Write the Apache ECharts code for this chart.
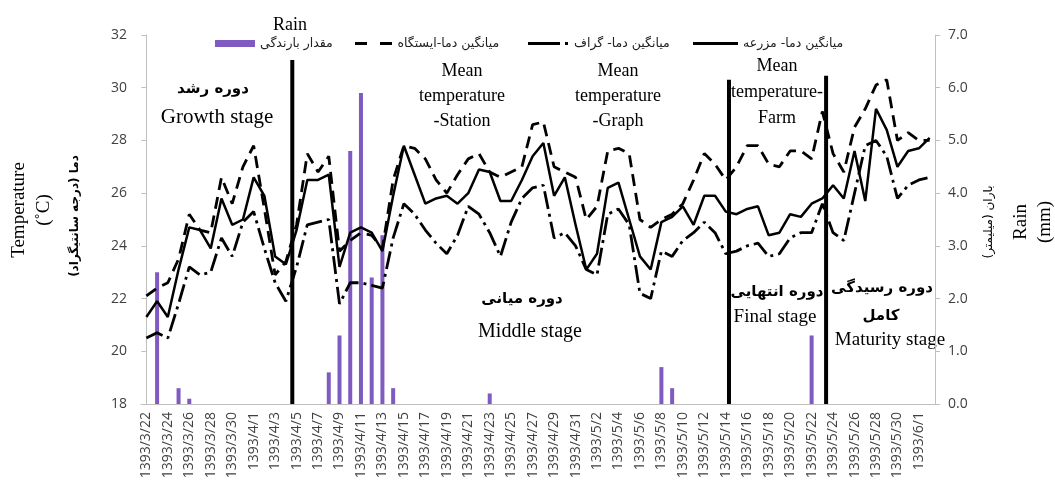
<!DOCTYPE html>
<html>
<head>
<meta charset="utf-8">
<script src="https://cdn.jsdelivr.net/npm/echarts@6/dist/echarts.min.js"></script>
<style>
  html, body { margin: 0; padding: 0; background: #fff; }
  #chart { width: 1055px; height: 486px; }
</style>
</head>
<body>
<div id="chart"></div>
<script>
// Daily series, 1393/3/22 – 1393/6/2 (Persian calendar)
const dateSpans = [[3, 22, 31], [4, 1, 31], [5, 1, 31], [6, 1, 2]];
const dates = [];
for (const [m, d0, d1] of dateSpans) {
  for (let d = d0; d <= d1; d++) dates.push('1393/' + m + '/' + d);
}

// Daily rain (mm)
const rain = [
  0, 2.5, 0, 0.3, 0.1, 0, 0, 0, 0, 0,
  0, 0, 0, 0, 0, 0, 0, 0.6, 1.3, 4.8, 5.9, 2.4, 3.2, 0.3, 0, 0, 0, 0, 0, 0, 0, 0, 0.2, 0, 0, 0, 0, 0, 0, 0, 0,
  0, 0, 0, 0, 0, 0, 0, 0.7, 0.3, 0, 0, 0, 0, 0, 0, 0, 0, 0, 0, 0, 0, 1.3, 0, 0, 0, 0, 0, 0, 0, 0, 0,
  0, 0
];

// Mean temperature, weather station (°C)
const station = [
  22.1, 22.4, 22.6, 23.5, 25.2, 24.6, 24.5, 26.6, 25.6, 27.0,
  27.8, 25.4, 22.9, 23.4, 24.8, 27.5, 26.8, 27.4, 23.8, 24.2, 24.5, 24.4, 23.9, 26.5, 27.8, 27.7,
  27.3, 26.5, 26.0, 26.7, 27.3, 27.5, 26.8, 26.6, 26.8, 27.0, 28.6, 28.7, 27.0, 26.8, 26.6,
  25.0, 25.5, 27.6, 27.7, 27.5, 25.0, 24.7, 25.0, 25.2, 25.6, 26.5, 27.5, 27.1, 26.5, 27.0, 27.8,
  27.8, 27.1, 27.0, 27.6, 27.6, 27.3, 29.1, 27.5, 26.8, 28.5, 29.2, 30.1, 30.3, 28.0, 28.3,
  28.0, 28.0
];

// Mean temperature, thermograph (°C)
const graph = [
  20.5, 20.7, 20.5, 21.8, 23.2, 22.9, 23.0, 24.3, 23.6, 24.9,
  25.3, 23.9, 22.6, 21.9, 23.2, 24.8, 24.9, 25.0, 21.8, 22.6, 22.6, 22.5, 22.4, 24.3, 25.6, 25.2,
  24.6, 24.1, 23.7, 24.4, 25.5, 25.2, 24.5, 23.6, 24.9, 25.8, 26.2, 26.3, 24.3, 24.5, 24.0,
  23.1, 22.9, 25.2, 25.4, 24.8, 22.2, 22.0, 23.8, 23.6, 24.2, 24.5, 24.9, 24.5, 23.7, 23.8, 24.0,
  24.1, 23.6, 23.7, 24.3, 24.5, 24.5, 25.6, 24.5, 24.2, 26.0, 27.8, 28.0, 27.4, 25.8, 26.3,
  26.5, 26.6
];

// Mean temperature, farm (°C)
const farm = [
  21.3, 21.9, 21.3, 23.1, 24.7, 24.6, 23.9, 25.8, 24.8, 25.0,
  26.6, 25.9, 23.6, 23.3, 24.6, 26.5, 26.5, 26.7, 23.2, 24.5, 24.7, 24.5, 23.8, 25.9, 27.8, 26.7,
  25.6, 25.8, 25.9, 25.6, 26.0, 26.9, 26.8, 25.7, 25.7, 26.5, 27.4, 27.9, 25.9, 26.6, 24.8,
  23.1, 23.7, 26.2, 26.4, 25.0, 23.6, 23.1, 24.9, 25.1, 25.5, 24.8, 25.9, 25.9, 25.3, 25.2, 25.4,
  25.5, 24.4, 24.5, 25.2, 25.1, 25.6, 25.8, 26.3, 25.8, 27.6, 25.7, 29.2, 28.4, 27.0, 27.6,
  27.7, 28.1
];

// Growth-stage boundaries (in day index) and the height of each divider (°C)
const stageLinePos = [13.6, 54.3, 63.35];
const stageLineTop = [31.05, 30.3, 30.45];

const tempTicks = [18, 32, 2];
const rainTicks = [0, 7, 1];

const NAME_RAIN = 'مقدار بارندگی';
const NAME_STATION = 'میانگین دما-ایستگاه';
const NAME_GRAPH = 'میانگین دما- گراف';
const NAME_FARM = 'میانگین دما- مزرعه';

const AXIS = '#bfbfbf';
const LABEL = '#404040';
const PURPLE = '#7f5bc1';
const SERIF = "'Liberation Serif', 'DejaVu Serif', serif";
const SANS = "'Open Sans', 'Noto Sans', sans-serif";
const FA = "'DejaVu Sans', sans-serif";

// Legend swatches: bar block, dashed, dash-dot and solid strokes
const legendSpec = [
  { name: NAME_RAIN, left: 215, w: 40, h: 7, icon: 'rect' },
  { name: NAME_STATION, left: 355, w: 38, h: 3, icon: 'path://M0,0H12V3H0Z M25,0H37V3H25Z' },
  { name: NAME_GRAPH, left: 528, w: 42, h: 3, icon: 'path://M0,0H32V3H0Z M37,0H40V3H37Z' },
  { name: NAME_FARM, left: 693, w: 45, h: 3, icon: 'path://M0,0H45V3H0Z' }
];

function label(text, x, y, size, family, extra) {
  extra = extra || {};
  return {
    type: 'text', x: x, y: y, rotation: extra.rotation || 0, silent: true,
    style: {
      text: text, fill: '#000', fontSize: size, fontFamily: family,
      fontWeight: extra.bold ? 'bold' : 'normal',
      align: 'center', verticalAlign: 'middle', lineHeight: extra.lineHeight || size * 1.2
    }
  };
}

const chart = echarts.init(document.getElementById('chart'), null, { renderer: 'canvas' });

const option = {
  animation: false,
  backgroundColor: '#fff',
  grid: { left: 141, right: 120, top: 35, bottom: 82, containLabel: false },
  legend: legendSpec.map(function (it) {
    return {
      data: [{ name: it.name, icon: it.icon }], left: it.left, top: 37, padding: 0,
      itemWidth: it.w, itemHeight: it.h, selectedMode: false,
      textStyle: { fontSize: 12.5, fontFamily: FA, color: '#222' }
    };
  }),
  xAxis: [
    {
      type: 'category', data: dates, boundaryGap: true,
      axisLine: { lineStyle: { color: AXIS, width: 1 } },
      axisTick: { interval: 0, length: 5, lineStyle: { color: AXIS } },
      axisLabel: { interval: 1, rotate: 90, margin: 8, fontSize: 14, fontFamily: SANS, color: LABEL }
    },
    { type: 'value', min: -0.5, max: dates.length - 0.5, show: false }
  ],
  yAxis: [
    {
      type: 'value', min: tempTicks[0], max: tempTicks[1], interval: tempTicks[2],
      axisLine: { show: true, lineStyle: { color: AXIS } },
      axisTick: { show: true, length: 5, lineStyle: { color: AXIS } },
      splitLine: { show: false },
      axisLabel: { margin: 14, fontSize: 14, fontFamily: SANS, color: LABEL }
    },
    {
      type: 'value', position: 'right', min: rainTicks[0], max: rainTicks[1], interval: rainTicks[2],
      axisLine: { show: true, lineStyle: { color: AXIS } },
      axisTick: { show: true, length: 5, lineStyle: { color: AXIS } },
      splitLine: { show: false },
      axisLabel: { margin: 13, fontSize: 14, fontFamily: SANS, color: LABEL,
        formatter: function (v) { return v.toFixed(1); } }
    }
  ],
  series: [
    {
      name: NAME_RAIN, type: 'bar', xAxisIndex: 0, yAxisIndex: 1, data: rain,
      barWidth: 4, itemStyle: { color: PURPLE }, z: 1
    },
    {
      name: NAME_STATION, type: 'line', data: station, symbol: 'none',
      itemStyle: { color: '#000' },
      lineStyle: { color: '#000', width: 2.8, type: [12, 7] }, z: 3
    },
    {
      name: NAME_GRAPH, type: 'line', data: graph, symbol: 'none',
      itemStyle: { color: '#000' },
      lineStyle: { color: '#000', width: 2.8, type: [18, 5, 3, 5] }, z: 3
    },
    {
      name: NAME_FARM, type: 'line', data: farm, symbol: 'none',
      itemStyle: { color: '#000' },
      lineStyle: { color: '#000', width: 2.5 }, z: 3
    }
  ].concat(stageLinePos.map(function (p, k) {
    return {
      type: 'line', xAxisIndex: 1, yAxisIndex: 0, silent: true, symbol: 'none',
      data: [[p, tempTicks[0]], [p, stageLineTop[k]]],
      lineStyle: { color: '#000', width: 4 }, z: 5
    };
  })),
  graphic: [
    label('Rain', 290, 25, 18, SERIF),
    label('دوره رشد', 213, 89, 15, FA, { bold: true }),
    label('Growth stage', 217, 117, 21, SERIF),
    label('Mean\ntemperature\n-Station', 462, 96, 18, SERIF, { lineHeight: 25 }),
    label('Mean\ntemperature\n-Graph', 618, 96, 18, SERIF, { lineHeight: 25 }),
    label('Mean\ntemperature-\nFarm', 777, 92, 18, SERIF, { lineHeight: 26 }),
    label('دوره میانی', 522, 299, 15, FA, { bold: true }),
    label('Middle stage', 530, 332, 20, SERIF),
    label('دوره انتهایی', 777, 292, 15, FA, { bold: true }),
    label('Final stage', 775, 317, 19, SERIF),
    label('دوره رسیدگی', 882, 288, 15, FA, { bold: true }),
    label('کامل', 881, 316, 15, FA, { bold: true }),
    label('Maturity stage', 890, 340, 19, SERIF),
    label('Temperature\n(˚C)', 32, 210, 19, SERIF, { rotation: Math.PI / 2, lineHeight: 25 }),
    label('دما (درجه سانتیگراد)', 75, 216, 12, FA, { rotation: Math.PI / 2, bold: true }),
    label('باران (میلیمتر)', 989, 222, 12, FA, { rotation: Math.PI / 2 }),
    label('Rain\n(mm)', 1033, 222, 19, SERIF, { rotation: Math.PI / 2, lineHeight: 24 })
  ]
};

chart.setOption(option);
</script>
</body>
</html>
